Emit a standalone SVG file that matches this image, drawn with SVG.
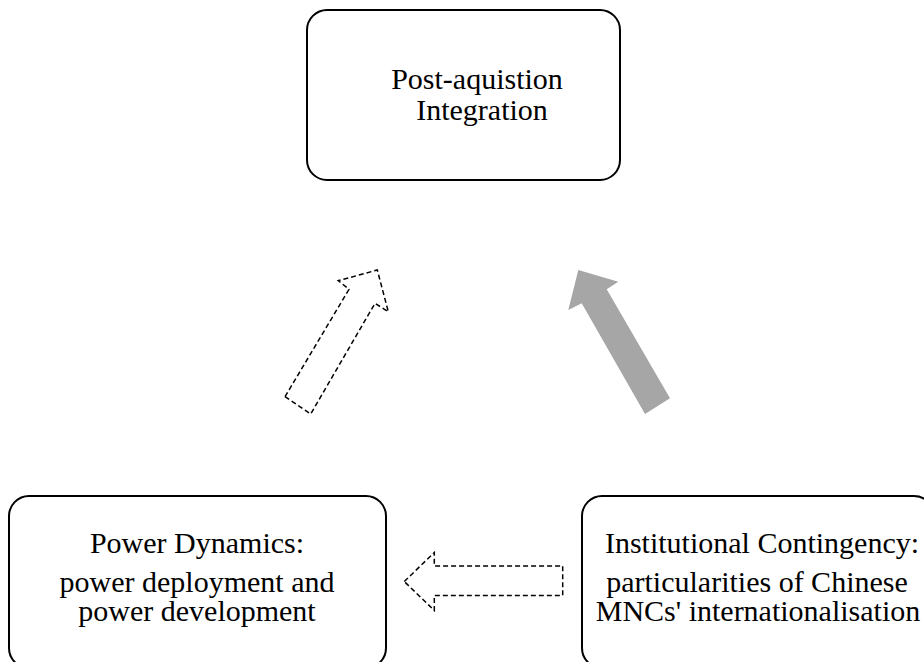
<svg xmlns="http://www.w3.org/2000/svg" width="924" height="662" viewBox="0 0 924 662">
  <style>
    .box { fill: #ffffff; stroke: #000000; stroke-width: 2; }
    .label { font-family: "Liberation Serif", "Times New Roman", serif; font-size: 30px; fill: #000000; text-anchor: middle; }
    .dashed { fill: none; stroke: #000000; stroke-width: 1.5; stroke-dasharray: 5 3; stroke-linejoin: miter; }
    .solid { fill: #a6a6a6; stroke: none; }
  </style>
  <rect width="924" height="662" fill="#ffffff"/>

  <g id="node-integration">
    <rect class="box" x="307" y="10" width="313" height="170" rx="20" ry="20"/>
    <text class="label" x="477" y="89">Post-aquistion</text>
    <text class="label" x="482" y="120">Integration</text>
  </g>

  <g id="node-power">
    <rect class="box" x="9" y="496" width="377" height="172" rx="20" ry="20"/>
    <text class="label" x="197" y="553">Power Dynamics:</text>
    <text class="label" x="197" y="592">power deployment and</text>
    <text class="label" x="197" y="621">power development</text>
  </g>

  <g id="node-institutional">
    <rect class="box" x="582" y="496" width="352" height="172" rx="20" ry="20"/>
    <text class="label" x="762" y="553">Institutional Contingency:</text>
    <text class="label" x="757" y="592">particularities of Chinese</text>
    <text class="label" x="758" y="621">MNCs' internationalisation</text>
  </g>

  <g id="connectors">
    <!-- power dynamics to integration: dashed outline block arrow -->
    <polygon class="dashed" points="285,396.7 310.7,414 375,303.3 388.3,311.7 377.3,270 338.3,280.7 349,289.3"/>
    <!-- institutional contingency to integration: solid grey block arrow -->
    <polygon class="solid" points="578.3,270 618.3,281.7 606.7,289.3 670,398.3 645,414 581.7,303.3 568.3,310"/>
    <!-- institutional contingency to power dynamics: dashed outline block arrow -->
    <polygon class="dashed" points="404.3,581.5 434.3,552.5 434.3,566 562.7,566 562.7,595.5 434.3,595.5 434.3,610.5"/>
  </g>
</svg>
